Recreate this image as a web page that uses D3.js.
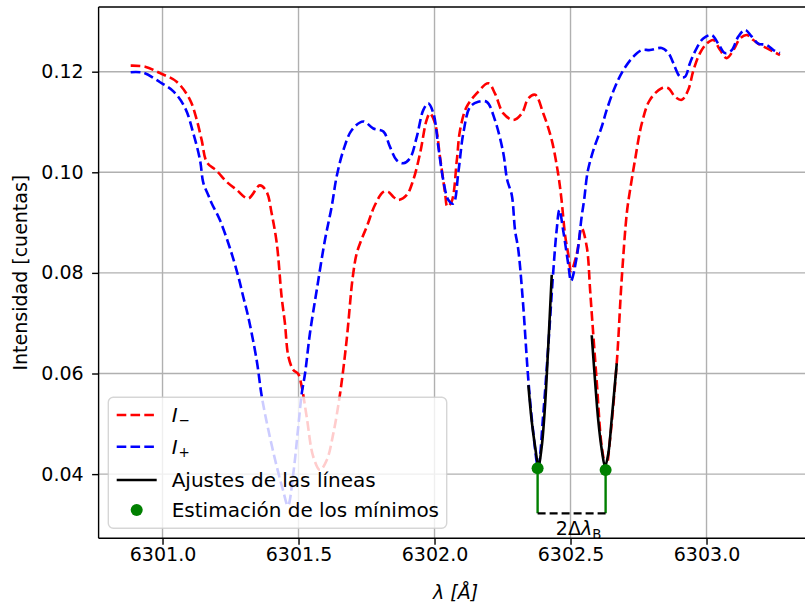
<!DOCTYPE html>
<html>
<head>
<meta charset="utf-8">
<script src="https://cdn.jsdelivr.net/npm/d3@7"></script>
<style>
  body { margin: 0; background: #fff; }
  svg { display: block; font-family: "DejaVu Sans", sans-serif; }
</style>
</head>
<body>
<div id="chart"></div>
<script>
// I- (red) profile
const lamMinus = [6300.883, 6300.936, 6300.991, 6301.052, 6301.101, 6301.126, 6301.144, 6301.163, 6301.199, 6301.236,
  6301.273, 6301.315, 6301.358, 6301.383, 6301.401, 6301.420, 6301.438, 6301.450, 6301.463, 6301.481,
  6301.499, 6301.512, 6301.530, 6301.554, 6301.579, 6301.604, 6301.628, 6301.653, 6301.677, 6301.699,
  6301.714, 6301.732, 6301.751, 6301.781, 6301.812, 6301.830, 6301.849, 6301.867, 6301.898, 6301.922,
  6301.947, 6301.971, 6301.983, 6302.002, 6302.020, 6302.039, 6302.047, 6302.063, 6302.082, 6302.094,
  6302.118, 6302.155, 6302.198, 6302.222, 6302.253, 6302.290, 6302.321, 6302.345, 6302.370, 6302.400,
  6302.431, 6302.455, 6302.467, 6302.480, 6302.492, 6302.502, 6302.523, 6302.541, 6302.560, 6302.572,
  6302.578, 6302.596, 6302.615, 6302.631, 6302.645, 6302.670, 6302.688, 6302.707, 6302.719, 6302.737,
  6302.762, 6302.792, 6302.835, 6302.860, 6302.884, 6302.909, 6302.933, 6302.952, 6302.976, 6303.001,
  6303.025, 6303.050, 6303.074, 6303.099, 6303.123, 6303.148, 6303.172, 6303.197, 6303.221, 6303.246, 6303.270];
const intMinus = [0.1212, 0.1210, 0.1197, 0.1180, 0.1144, 0.1104, 0.1064, 0.1020, 0.1003, 0.0981,
  0.0965, 0.0948, 0.0974, 0.0961, 0.0919, 0.0859, 0.0752, 0.0700, 0.0633, 0.0607,
  0.0599, 0.0573, 0.0514, 0.0435, 0.0408, 0.0428, 0.0481, 0.0561, 0.0667, 0.0790,
  0.0839, 0.0867, 0.0892, 0.0935, 0.0961, 0.0961, 0.0951, 0.0945, 0.0955, 0.0985,
  0.1038, 0.1104, 0.1117, 0.1097, 0.1031, 0.0958, 0.0932, 0.0942, 0.1024, 0.1084,
  0.1130, 0.1157, 0.1177, 0.1157, 0.1117, 0.1104, 0.1117, 0.1147, 0.1154, 0.1117,
  0.1064, 0.0995, 0.0945, 0.0875, 0.0836, 0.0804, 0.0838, 0.0889, 0.0851, 0.0766,
  0.0720, 0.0587, 0.0454, 0.0412, 0.0468, 0.0621, 0.0786, 0.0919, 0.0965, 0.1024,
  0.1097, 0.1144, 0.1167, 0.1167, 0.1150, 0.1144, 0.1164, 0.1203, 0.1237, 0.1256,
  0.1263, 0.1243, 0.1227, 0.1243, 0.1266, 0.1273, 0.1263, 0.1253, 0.1247, 0.1240, 0.1233];

// I+ (blue) profile
const lamPlus = [6300.883, 6300.929, 6300.991, 6301.040, 6301.083, 6301.113, 6301.138, 6301.150, 6301.168, 6301.181,
  6301.211, 6301.248, 6301.279, 6301.297, 6301.315, 6301.346, 6301.365, 6301.389, 6301.420, 6301.443,
  6301.461, 6301.481, 6301.499, 6301.512, 6301.524, 6301.542, 6301.567, 6301.597, 6301.622, 6301.640,
  6301.665, 6301.696, 6301.738, 6301.775, 6301.812, 6301.836, 6301.861, 6301.885, 6301.910, 6301.935,
  6301.959, 6301.977, 6301.996, 6302.014, 6302.032, 6302.051, 6302.069, 6302.088, 6302.106, 6302.131,
  6302.161, 6302.192, 6302.222, 6302.253, 6302.267, 6302.284, 6302.296, 6302.308, 6302.324, 6302.345,
  6302.362, 6302.381, 6302.400, 6302.418, 6302.437, 6302.449, 6302.459, 6302.474, 6302.492, 6302.502,
  6302.523, 6302.541, 6302.550, 6302.563, 6302.584, 6302.615, 6302.633, 6302.664, 6302.694, 6302.731,
  6302.762, 6302.792, 6302.835, 6302.860, 6302.878, 6302.903, 6302.921, 6302.939, 6302.964, 6302.988,
  6303.019, 6303.043, 6303.068, 6303.093, 6303.117, 6303.142, 6303.166, 6303.190, 6303.221, 6303.246, 6303.270];
const intPlus = [0.1199, 0.1198, 0.1179, 0.1161, 0.1128, 0.1078, 0.1024, 0.0979, 0.0955, 0.0938,
  0.0905, 0.0849, 0.0792, 0.0752, 0.0713, 0.0627, 0.0554, 0.0488, 0.0415, 0.0368,
  0.0337, 0.0402, 0.0494, 0.0561, 0.0600, 0.0680, 0.0766, 0.0865, 0.0932, 0.0991,
  0.1044, 0.1084, 0.1101, 0.1087, 0.1081, 0.1051, 0.1024, 0.1018, 0.1028, 0.1071,
  0.1124, 0.1137, 0.1117, 0.1051, 0.0985, 0.0945, 0.0938, 0.1002, 0.1078, 0.1130,
  0.1140, 0.1140, 0.1104, 0.1038, 0.0985, 0.0955, 0.0885, 0.0846, 0.0750, 0.0587,
  0.0488, 0.0414, 0.0521, 0.0653, 0.0806, 0.0885, 0.0925, 0.0881, 0.0816, 0.0784,
  0.0832, 0.0912, 0.0945, 0.1001, 0.1044, 0.1091, 0.1124, 0.1170, 0.1203, 0.1230,
  0.1243, 0.1243, 0.1247, 0.1237, 0.1217, 0.1190, 0.1190, 0.1217, 0.1247, 0.1266,
  0.1273, 0.1256, 0.1237, 0.1243, 0.1270, 0.1283, 0.1270, 0.1256, 0.1253, 0.1243, 0.1237];

// line fits around the two minima
const lamFitPlus = [6302.345, 6302.357, 6302.370, 6302.382, 6302.394, 6302.406, 6302.418, 6302.431];
const intFitPlus = [0.0577, 0.0507, 0.0454, 0.0416, 0.0454, 0.0534, 0.0653, 0.0796];
const lamFitMinus = [6302.578, 6302.590, 6302.602, 6302.615, 6302.627, 6302.639, 6302.651, 6302.670];
const intFitMinus = [0.0676, 0.0587, 0.0507, 0.0448, 0.0415, 0.0441, 0.0507, 0.0620];

// estimated minima and the bracket level
const lamMin = [6302.379, 6302.629];
const intMin = [0.04115, 0.04081];
const bracketLevel = 0.0322;

const xTicks = [6301.0, 6301.5, 6302.0, 6302.5, 6303.0];
const yTicks = [0.04, 0.06, 0.08, 0.10, 0.12];

const width = 805;
const height = 607;
const plot = { left: 98.6, right: 812.6, top: 7, bottom: 538.3 };
const fs = 19;
const legendFs = 20;

const svg = d3.select('#chart')
  .append('svg')
  .attr('width', width)
  .attr('height', height)
  .attr('viewBox', [0, 0, width, height]);

const x = d3.scaleLinear()
  .domain([6300.765, 6303.39])
  .range([plot.left, plot.right]);

const y = d3.scaleLinear()
  .domain([0.02724, 0.13286])
  .range([plot.bottom, plot.top]);

svg.append('defs').append('clipPath').attr('id', 'clip')
  .append('rect')
  .attr('x', plot.left).attr('y', plot.top)
  .attr('width', plot.right - plot.left).attr('height', plot.bottom - plot.top);

// grid
svg.append('g')
  .selectAll('line')
  .data(xTicks)
  .join('line')
    .attr('x1', d => x(d)).attr('x2', d => x(d))
    .attr('y1', plot.top).attr('y2', plot.bottom)
    .attr('stroke', '#b0b0b0').attr('stroke-width', 1.4);
svg.append('g')
  .selectAll('line')
  .data(yTicks)
  .join('line')
    .attr('x1', plot.left).attr('x2', plot.right)
    .attr('y1', d => y(d)).attr('y2', d => y(d))
    .attr('stroke', '#b0b0b0').attr('stroke-width', 1.4);

const line = d3.line()
  .x(d => x(d[0]))
  .y(d => y(d[1]))
  .curve(d3.curveCatmullRom.alpha(0.5));

const curves = svg.append('g').attr('clip-path', 'url(#clip)');

curves.append('path')
  .attr('d', line(d3.zip(lamMinus, intMinus)))
  .attr('fill', 'none').attr('stroke', '#ff0000')
  .attr('stroke-width', 2.6).attr('stroke-dasharray', '9.6,4.2');

curves.append('path')
  .attr('d', line(d3.zip(lamPlus, intPlus)))
  .attr('fill', 'none').attr('stroke', '#0000ff')
  .attr('stroke-width', 2.6).attr('stroke-dasharray', '9.6,4.2');

curves.append('path')
  .attr('d', line(d3.zip(lamFitPlus, intFitPlus)))
  .attr('fill', 'none').attr('stroke', '#000').attr('stroke-width', 2.6);

curves.append('path')
  .attr('d', line(d3.zip(lamFitMinus, intFitMinus)))
  .attr('fill', 'none').attr('stroke', '#000').attr('stroke-width', 2.6);

// bracket showing 2*delta lambda_B
curves.selectAll('line.stem')
  .data(d3.zip(lamMin, intMin))
  .join('line')
    .attr('class', 'stem')
    .attr('x1', d => x(d[0])).attr('x2', d => x(d[0]))
    .attr('y1', d => y(d[1])).attr('y2', y(bracketLevel))
    .attr('stroke', '#008000').attr('stroke-width', 2.4);

curves.append('line')
  .attr('x1', x(lamMin[0])).attr('x2', x(lamMin[1]))
  .attr('y1', y(bracketLevel)).attr('y2', y(bracketLevel))
  .attr('stroke', '#000').attr('stroke-width', 2.4)
  .attr('stroke-dasharray', '8,4');

curves.selectAll('circle')
  .data(d3.zip(lamMin, intMin))
  .join('circle')
    .attr('cx', d => x(d[0]))
    .attr('cy', d => y(d[1]))
    .attr('r', 6)
    .attr('fill', '#008000');

const ann = svg.append('text')
  .attr('x', (x(lamMin[0]) + x(lamMin[1])) / 2 + 7)
  .attr('y', y(bracketLevel) + 21.7)
  .attr('text-anchor', 'middle')
  .attr('font-size', fs)
  .attr('fill', '#000');
ann.append('tspan').text('2Δ');
ann.append('tspan').attr('font-style', 'italic').text('λ');
ann.append('tspan').attr('font-size', 13.3).attr('dy', 3.5).text('B');

// spines
svg.append('line')
  .attr('x1', plot.left).attr('x2', plot.left)
  .attr('y1', plot.top).attr('y2', plot.bottom)
  .attr('stroke', '#000').attr('stroke-width', 1.4);
svg.append('line')
  .attr('x1', plot.left).attr('x2', plot.right)
  .attr('y1', plot.bottom).attr('y2', plot.bottom)
  .attr('stroke', '#000').attr('stroke-width', 1.4);
svg.append('line')
  .attr('x1', plot.left).attr('x2', plot.right)
  .attr('y1', plot.top).attr('y2', plot.top)
  .attr('stroke', '#000').attr('stroke-width', 1.4);
svg.append('line')
  .attr('x1', plot.right).attr('x2', plot.right)
  .attr('y1', plot.top).attr('y2', plot.bottom)
  .attr('stroke', '#000').attr('stroke-width', 1.4);

// axes
function xAxis(g) {
  g.attr('transform', `translate(0,${plot.bottom})`)
    .call(d3.axisBottom(x).tickValues(xTicks).tickFormat(d3.format('.1f')).tickSize(6.5).tickPadding(2.5))
    .call(g => g.select('.domain').remove())
    .attr('font-size', fs)
    .attr('font-family', '"DejaVu Sans", sans-serif');
  g.selectAll('.tick line').attr('stroke', '#000').attr('stroke-width', 1.4);
  g.selectAll('.tick text').attr('fill', '#000');
}

function yAxis(g) {
  g.attr('transform', `translate(${plot.left},0)`)
    .call(d3.axisLeft(y).tickValues(yTicks).tickFormat(d3.format('.2f')).tickSize(6.5).tickPadding(8.5))
    .call(g => g.select('.domain').remove())
    .attr('font-size', fs)
    .attr('font-family', '"DejaVu Sans", sans-serif');
  g.selectAll('.tick line').attr('stroke', '#000').attr('stroke-width', 1.4);
  g.selectAll('.tick text').attr('fill', '#000');
}

svg.append('g').call(xAxis);
svg.append('g').call(yAxis);

// axis labels
svg.append('text')
  .attr('x', (plot.left + plot.right) / 2)
  .attr('y', 599)
  .attr('text-anchor', 'middle')
  .attr('font-size', fs)
  .attr('font-style', 'italic')
  .attr('fill', '#000')
  .text('λ [Å]');

svg.append('text')
  .attr('transform', `translate(26.7,${(plot.top + plot.bottom) / 2}) rotate(-90)`)
  .attr('text-anchor', 'middle')
  .attr('font-size', fs)
  .attr('fill', '#000')
  .text('Intensidad [cuentas]');

// legend
const legend = svg.append('g');
legend.append('rect')
  .attr('x', 108.3).attr('y', 397.3)
  .attr('width', 338.4).attr('height', 131)
  .attr('rx', 5)
  .attr('fill', '#fff').attr('fill-opacity', 0.8)
  .attr('stroke', '#cccccc').attr('stroke-opacity', 0.8).attr('stroke-width', 1.4);

const entries = [
  { y: 415, kind: 'dash', color: '#ff0000', sub: '−' },
  { y: 446.7, kind: 'dash', color: '#0000ff', sub: '+' },
  { y: 480, kind: 'solid', color: '#000', label: 'Ajustes de las líneas' },
  { y: 510, kind: 'dot', color: '#008000', label: 'Estimación de los mínimos' }
];

entries.forEach(e => {
  if (e.kind === 'dot') {
    legend.append('circle').attr('cx', 136.7).attr('cy', e.y).attr('r', 6).attr('fill', e.color);
  } else {
    legend.append('line')
      .attr('x1', 116.7).attr('x2', 156.7)
      .attr('y1', e.y).attr('y2', e.y)
      .attr('stroke', e.color).attr('stroke-width', 2.6)
      .attr('stroke-dasharray', e.kind === 'dash' ? '9.6,4.2' : null);
  }
  const t = legend.append('text')
    .attr('x', 171.7).attr('y', e.y + 6.8)
    .attr('font-size', legendFs).attr('fill', '#000');
  if (e.sub) {
    t.append('tspan').attr('font-style', 'italic').text('I');
    t.append('tspan').attr('font-size', 13.5).attr('dy', 3).attr('dx', 1).text(e.sub);
  } else {
    t.text(e.label);
  }
});
</script>
</body>
</html>
